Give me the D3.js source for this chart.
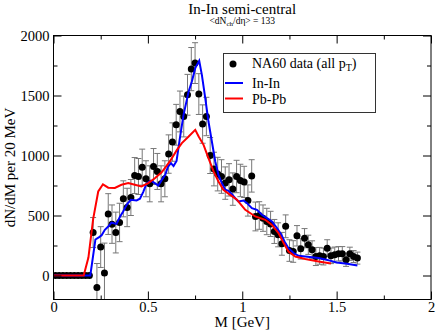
<!DOCTYPE html>
<html>
<head>
<meta charset="utf-8">
<script src="https://cdn.jsdelivr.net/npm/d3@7"></script>
<style>
  body { margin: 0; background: #fff; }
  svg { display: block; }
  svg text { font-family: "Liberation Serif", "Times New Roman", serif; fill: #000; }
  .axis line { stroke: #000; }
</style>
</head>
<body>
<svg id="chart"></svg>
<script>
// NA60 data, 20 MeV bins (GeV)
var mass = [0.01, 0.03, 0.05, 0.07, 0.09, 0.11, 0.13, 0.15, 0.17, 0.19,
  0.21, 0.23, 0.25, 0.27, 0.29, 0.31, 0.33, 0.35, 0.37, 0.39,
  0.41, 0.43, 0.45, 0.47, 0.49, 0.51, 0.53, 0.55, 0.57, 0.59,
  0.61, 0.63, 0.65, 0.67, 0.69, 0.71, 0.73, 0.75, 0.77, 0.79,
  0.81, 0.83, 0.85, 0.87, 0.89, 0.91, 0.93, 0.95, 0.97, 0.99,
  1.01, 1.03, 1.05, 1.07, 1.09, 1.11, 1.13, 1.15, 1.17, 1.19,
  1.21, 1.23, 1.25, 1.27, 1.29, 1.31, 1.33, 1.35, 1.37, 1.39,
  1.41, 1.43, 1.45, 1.47, 1.49, 1.51, 1.53, 1.55, 1.57, 1.59, 1.61];
var dndm = [0, 0, 0, 0, 0, 0, 0, 0, 0, 0,
  358, -100, 237, 20, 512, 428, 358, 442, 639, 567,
  650, 833, 825, 903, 806, 764, 908, 867, 764, 806,
  1012, 1112, 1256, 1367, 1325, 1506, 1720, 1770, 1512, 1262,
  1325, 1000, 887, 845, 825, 770, 797, 720, 825, 792,
  780, 625, 830, 492, 500, 478, 450, 430, 367, 339,
  264, 410, 208, 200, 331, 222, 311, 256, 214, 158,
  164, 158, 228, 164, 172, 181, 181, 131, 181, 158, 145];
var err = [0, 0, 0, 0, 0, 0, 0, 0, 0, 0,
  125, 200, 170, 250, 170, 160, 170, 160, 150, 160,
  150, 150, 150, 150, 150, 150, 150, 150, 150, 150,
  160, 160, 170, 170, 170, 170, 180, 170, 170, 160,
  160, 150, 140, 140, 140, 135, 135, 135, 135, 135,
  130, 130, 135, 120, 115, 110, 110, 105, 100, 100,
  95, 95, 90, 90, 85, 85, 80, 80, 75, 75,
  70, 70, 70, 65, 65, 60, 60, 55, 55, 50, 50];

// model curves [M, dN/dM]
var inIn = [[0, 0], [0.195, 0], [0.222, 300], [0.24, 318], [0.255, 335], [0.272, 381],
  [0.29, 408], [0.307, 440], [0.334, 430], [0.352, 490], [0.369, 533], [0.39, 595],
  [0.41, 631], [0.44, 625], [0.458, 640], [0.475, 695], [0.493, 765], [0.515, 790],
  [0.537, 770], [0.555, 750], [0.573, 795], [0.592, 839], [0.606, 905], [0.622, 937],
  [0.636, 912], [0.652, 955], [0.671, 1160], [0.689, 1339], [0.716, 1533], [0.733, 1617],
  [0.751, 1728], [0.772, 1789], [0.786, 1672], [0.804, 1478], [0.821, 1283], [0.839, 1117],
  [0.857, 950], [0.874, 839], [0.892, 770], [0.91, 714], [0.927, 706], [0.945, 678],
  [0.965, 640], [0.98, 617], [1.007, 625], [1.025, 603], [1.051, 561], [1.078, 547],
  [1.104, 506], [1.131, 478], [1.157, 450], [1.184, 395], [1.207, 339], [1.224, 283],
  [1.245, 228], [1.272, 187], [1.298, 164], [1.334, 158], [1.369, 153], [1.404, 145],
  [1.44, 134], [1.475, 120], [1.5, 108], [1.555, 97], [1.61, 83]];
var pbPb = [[0, 0], [0.16, 0], [0.185, 150], [0.21, 470], [0.237, 700], [0.262, 760],
  [0.29, 732], [0.325, 730], [0.36, 756], [0.396, 770], [0.431, 756], [0.466, 742],
  [0.502, 770], [0.537, 811], [0.573, 860], [0.6, 915], [0.618, 955], [0.654, 1047],
  [0.68, 1103], [0.716, 1158], [0.751, 1214], [0.769, 1158], [0.795, 1089], [0.821, 978],
  [0.848, 867], [0.874, 783], [0.9, 714], [0.936, 672], [0.972, 631], [1.016, 547],
  [1.069, 492], [1.122, 464], [1.157, 422], [1.192, 353], [1.219, 270], [1.245, 200],
  [1.281, 158], [1.334, 137], [1.404, 117], [1.47, 100]];

var xMajor = [0, 0.5, 1, 1.5, 2],
    xMinor = [0.25, 0.75, 1.25, 1.75],
    yMajor = [0, 500, 1000, 1500, 2000],
    yMinor = [250, 750, 1250, 1750];

var W = 436, H = 333,
    svg = d3.select('#chart').attr('width', W).attr('height', H),
    x = d3.scaleLinear().domain([0, 2]).range([53.5, 431]),
    y = d3.scaleLinear().domain([-200, 2000]).range([299.5, 35.5]);

var data = mass.map(function(m, i) { return {m: m, v: dndm[i], e: err[i]}; });

// clip to the frame
svg.append('clipPath').attr('id', 'clip').append('rect')
  .attr('x', x(0)).attr('y', y(2000)).attr('width', x(2) - x(0)).attr('height', y(-200) - y(2000));

var plot = svg.append('g').attr('clip-path', 'url(#clip)');

// error bars
var eb = plot.append('g').attr('stroke', '#777').attr('stroke-width', 1)
  .selectAll('g').data(data.filter(function(d) { return d.e > 0; })).enter().append('g');
eb.append('line')
  .attr('x1', function(d) { return x(d.m); }).attr('x2', function(d) { return x(d.m); })
  .attr('y1', function(d) { return y(d.v - d.e); }).attr('y2', function(d) { return y(d.v + d.e); });
eb.append('line')
  .attr('x1', function(d) { return x(d.m) - 3; }).attr('x2', function(d) { return x(d.m) + 3; })
  .attr('y1', function(d) { return y(d.v + d.e); }).attr('y2', function(d) { return y(d.v + d.e); });
eb.append('line')
  .attr('x1', function(d) { return x(d.m) - 3; }).attr('x2', function(d) { return x(d.m) + 3; })
  .attr('y1', function(d) { return y(d.v - d.e); }).attr('y2', function(d) { return y(d.v - d.e); });

// points
plot.append('g').selectAll('circle').data(data).enter().append('circle')
  .attr('cx', function(d) { return x(d.m); })
  .attr('cy', function(d) { return y(d.v); })
  .attr('r', 3.5).attr('fill', '#000');

// model lines
var line = d3.line().x(function(d) { return x(d[0]); }).y(function(d) { return y(d[1]); });
plot.append('path').datum(inIn).attr('d', line)
  .attr('fill', 'none').attr('stroke', '#0000ff').attr('stroke-width', 2);
plot.append('path').datum(pbPb).attr('d', line)
  .attr('fill', 'none').attr('stroke', '#ff0000').attr('stroke-width', 2);

// axes, ticks inward on all four sides
function addAxis(axis, tr, labels) {
  var g = svg.append('g').attr('class', 'axis').attr('transform', tr).call(axis);
  g.attr('font-family', null).attr('font-size', null);
  g.select('.domain').remove();
  if (!labels) g.selectAll('text').remove();
  g.selectAll('text')
    .style('font-family', '"Liberation Serif", "Times New Roman", serif')
    .style('font-size', '14.5px');
  return g;
}
var fmtX = function(d) { return String(d); };
addAxis(d3.axisBottom(x).tickValues(xMajor).tickSize(-8).tickPadding(2).tickFormat(fmtX), 'translate(0,' + y(-200) + ')', true);
addAxis(d3.axisBottom(x).tickValues(xMinor).tickSize(-4), 'translate(0,' + y(-200) + ')', false);
addAxis(d3.axisTop(x).tickValues(xMajor).tickSize(-8), 'translate(0,' + y(2000) + ')', false);
addAxis(d3.axisTop(x).tickValues(xMinor).tickSize(-4), 'translate(0,' + y(2000) + ')', false);
addAxis(d3.axisLeft(y).tickValues(yMajor).tickSize(-8).tickPadding(4).tickFormat(d3.format('d')), 'translate(' + x(0) + ',0)', true);
addAxis(d3.axisLeft(y).tickValues(yMinor).tickSize(-4), 'translate(' + x(0) + ',0)', false);
addAxis(d3.axisRight(y).tickValues(yMajor).tickSize(-8), 'translate(' + x(2) + ',0)', false);
addAxis(d3.axisRight(y).tickValues(yMinor).tickSize(-4), 'translate(' + x(2) + ',0)', false);

// frame
svg.append('rect')
  .attr('x', x(0)).attr('y', y(2000)).attr('width', x(2) - x(0)).attr('height', y(-200) - y(2000))
  .attr('fill', 'none').attr('stroke', '#000').attr('stroke-width', 1);

// titles
var cx = (x(0) + x(2)) / 2;
svg.append('text').attr('x', cx).attr('y', 14).attr('text-anchor', 'middle')
  .style('font-size', '15px').text('In-In semi-central');
var sub = svg.append('text').attr('x', cx).attr('y', 24).attr('text-anchor', 'middle')
  .style('font-size', '9.5px');
sub.append('tspan').text('<dN');
sub.append('tspan').attr('dy', 2).style('font-size', '7px').text('ch');
sub.append('tspan').attr('dy', -2).text('/dη> = 133');

svg.append('text').attr('x', cx).attr('y', 327).attr('text-anchor', 'middle')
  .style('font-size', '15px').text('M [GeV]');
svg.append('text').attr('transform', 'translate(15,' + ((y(2000) + y(-200)) / 2) + ') rotate(-90)')
  .attr('text-anchor', 'middle').style('font-size', '15px').text('dN/dM per 20 MeV');

// legend
var lg = svg.append('g');
lg.append('rect').attr('x', 223.5).attr('y', 53.5).attr('width', 152).attr('height', 59)
  .attr('fill', '#fff').attr('stroke', '#333').attr('stroke-width', 1);
lg.append('circle').attr('cx', 233).attr('cy', 64).attr('r', 3.5).attr('fill', '#000');
var t1 = lg.append('text').attr('x', 252).attr('y', 68).style('font-size', '14px');
t1.append('tspan').text('NA60 data (all p');
t1.append('tspan').attr('dy', 3).style('font-size', '10px').text('T');
t1.append('tspan').attr('dy', -3).text(')');
lg.append('line').attr('x1', 225).attr('x2', 243).attr('y1', 83).attr('y2', 83)
  .attr('stroke', '#0000ff').attr('stroke-width', 2);
lg.append('text').attr('x', 252).attr('y', 87.5).style('font-size', '14px').text('In-In');
lg.append('line').attr('x1', 225).attr('x2', 243).attr('y1', 98.5).attr('y2', 98.5)
  .attr('stroke', '#ff0000').attr('stroke-width', 2);
lg.append('text').attr('x', 252).attr('y', 103.5).style('font-size', '14px').text('Pb-Pb');
</script>
</body>
</html>
